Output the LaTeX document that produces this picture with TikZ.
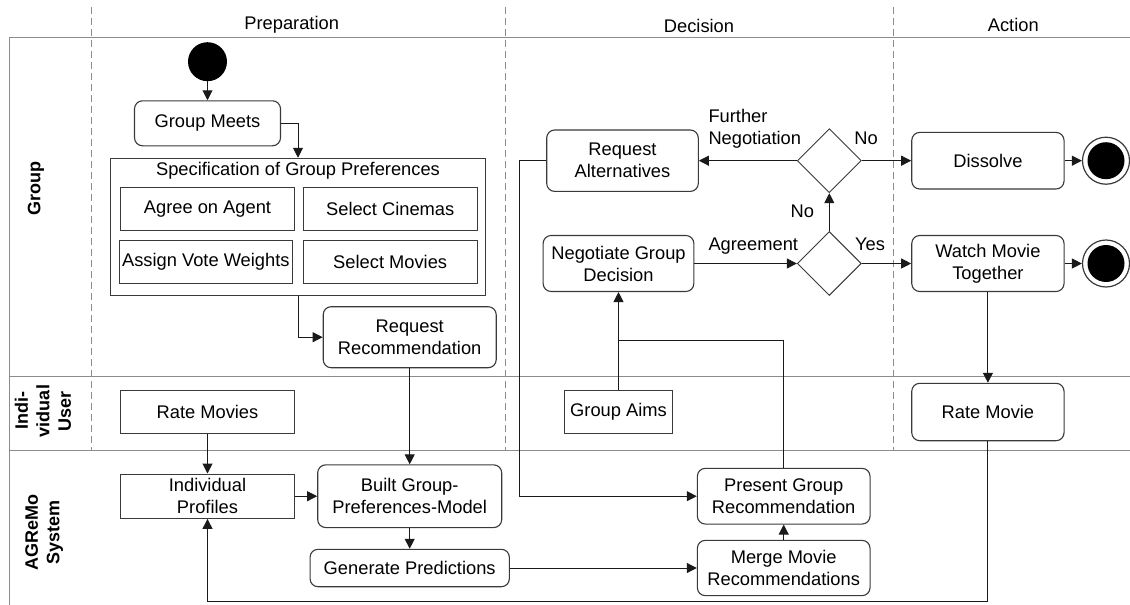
\documentclass[tikz,border=0pt]{standalone}
\usepackage{fontspec}
\setmainfont{Liberation Sans}
\usetikzlibrary{arrows.meta,shapes.geometric}
\definecolor{boxc}{HTML}{3A3A3A}
\definecolor{linec}{HTML}{1A1A1A}
\definecolor{lanec}{HTML}{8C8C8C}
\begin{document}
\begin{tikzpicture}[x=1pt,y=-1pt,
  every node/.style={font=\fontsize{18.3}{22}\selectfont, inner sep=0pt, align=center, text=black},
  rbox/.style={draw=boxc, line width=1.1pt, rounded corners=8pt},
  sbox/.style={draw=boxc, line width=1.1pt},
  lane/.style={draw=lanec, line width=0.9pt},
  sepline/.style={draw=lanec, line width=0.8pt, dash pattern=on 7pt off 4pt},
  flow/.style={draw=linec, line width=1pt, -{Triangle[length=10pt,width=10pt]}},
  plainline/.style={draw=linec, line width=1pt},
  dec/.style={diamond, draw=boxc, line width=0.9pt, minimum width=64pt, minimum height=64pt},
  lanelbl/.style={font=\bfseries\fontsize{18}{21.5}\selectfont, rotate=90},
  edgelbl/.style={font=\fontsize{18.3}{22}\selectfont},
]
\useasboundingbox (0,0) rectangle (1130,605);
\fill[white] (0,0) rectangle (1130,605);

% swimlane grid
\draw[lane] (9,37.7) -- (1130,37.7);
\draw[lane] (9,376.7) -- (1130,376.7);
\draw[lane] (9,450.7) -- (1130,450.7);
\draw[lane] (9,37.7) -- (9,605);
\draw[sepline] (91.7,7) -- (91.7,450.7);
\draw[sepline] (505.8,7) -- (505.8,450.7);
\draw[sepline] (893.3,7) -- (893.3,450.7);

% headers
\node[anchor=base] (hprep) at (291.7,29.5) {Preparation};
\node[anchor=base] (hdec) at (699,32.3) {Decision};
\node[anchor=base] (hact) at (1013.3,31) {Action};

% lane labels
\node[lanelbl] (lgroup) at (36,188.3) {Group};
\node[lanelbl] (luser) at (43,411) {Indi-\\vidual\\User};
\node[lanelbl] (lsys) at (44.2,532) {AGReMo\\System};

% Preparation column
\node[circle, fill=black, minimum size=39pt] (start) at (207.5,61.7) {};
\node[rbox, minimum width=146pt, minimum height=45pt] (gm) at (207.5,123.3) {Group Meets};
\node[sbox, minimum width=375.3pt, minimum height=137pt] (spec) at (298,226.8) {};
\node[anchor=base] (spectitle) at (298,175.5) {Specification of Group Preferences};
\node[sbox, minimum width=174.4pt, minimum height=42.7pt] (agree) at (207.5,208.7) {Agree on Agent};
\node[sbox, minimum width=174.3pt, minimum height=42.7pt] (cinemas) at (390.2,208.7) {Select Cinemas};
\node[sbox, minimum width=173pt, minimum height=43.3pt] (assign) at (205.8,261.7) {Assign Vote Weights};
\node[sbox, minimum width=174.3pt, minimum height=43.3pt] (selmov) at (390.2,261.7) {Select Movies};
\node[rbox, minimum width=173pt, minimum height=61pt] (rr) at (409.7,337.2) {Request\\Recommendation};
\node[sbox, minimum width=174.4pt, minimum height=43.3pt] (ratemovies) at (207.5,411.7) {Rate Movies};
\node[sbox, minimum width=174.4pt, minimum height=44.3pt] (ip) at (207.5,496.2) {Individual\\Profiles};
\node[rbox, minimum width=184pt, minimum height=62.7pt] (built) at (409.7,496.2) {Built Group-\\Preferences-Model};
\node[rbox, minimum width=199.3pt, minimum height=37.4pt] (gp) at (409.7,568) {Generate Predictions};

% Decision column
\node[rbox, minimum width=151.6pt, minimum height=61.4pt] (ra) at (622.5,160.7) {Request\\Alternatives};
\node[dec] (d1) at (829.3,160.7) {};
\node[dec] (d2) at (829.3,263.5) {};
\node[rbox, minimum width=150.7pt, minimum height=56pt] (ngd) at (618.5,263.5) {Negotiate Group\\Decision};
\node[sbox, minimum width=108.3pt, minimum height=43.3pt] (aims) at (618.5,411.7) {Group Aims};
\node[rbox, minimum width=172.7pt, minimum height=55.7pt] (pgr) at (783.7,496.2) {Present Group\\Recommendation};
\node[rbox, minimum width=172.7pt, minimum height=55.3pt] (merge) at (783.7,568) {Merge Movie\\Recommendations};

% Action column
\node[rbox, minimum width=152.3pt, minimum height=56.6pt] (dissolve) at (987.9,160.7) {Dissolve};
\node[rbox, minimum width=152.3pt, minimum height=56pt] (wmt) at (987.9,263.5) {Watch Movie\\Together};
\node[rbox, minimum width=152.3pt, minimum height=57.4pt] (ratemovie) at (987.9,412) {Rate Movie};
\node[circle, draw=boxc, line width=1.2pt, minimum size=47pt] (end1) at (1106,160.7) {};
\node[circle, fill=black, minimum size=37pt] (end1i) at (1106,160.7) {};
\node[circle, draw=boxc, line width=1.2pt, minimum size=47pt] (end2) at (1106,263.5) {};
\node[circle, fill=black, minimum size=37pt] (end2i) at (1106,263.5) {};

% edge labels
\node[edgelbl, anchor=west, align=left] (lfn) at (708.3,128.6) {Further\\Negotiation};
\node[edgelbl, anchor=base] (lno1) at (866,144) {No};
\node[edgelbl, anchor=base] (lno2) at (802.3,217.3) {No};
\node[edgelbl, anchor=base west] (lagr) at (708.3,250) {Agreement};
\node[edgelbl, anchor=base] (lyes) at (870,250) {Yes};

% helper coordinates
\coordinate (c1) at (519,160.7);
\coordinate (j) at (618.5,340);
\coordinate (b1) at (987.9,601.7);
\coordinate (b2) at (207.5,601.7);

% connectors
\draw[flow] (start.south) -- (gm.north);
\draw[flow] (gm.east) -| (spec.north);
\draw[flow] (spec.south) |- (rr.west);
\draw[flow] (rr.south) -- (built.north);
\draw[flow] (ratemovies.south) -- (ip.north);
\draw[flow] (ip.east) -- (built.west);
\draw[flow] (built.south) -- (gp.north);
\draw[flow] (gp.east) -- (merge.west);
\draw[flow] (merge.north) -- (pgr.south);
\draw[plainline] (pgr.north) |- (j);
\draw[flow] (aims.north) -- (ngd.south);
\draw[flow] (ngd.east) -- (d2.west);
\draw[flow] (d2.north) -- (d1.south);
\draw[flow] (d1.west) -- (ra.east);
\draw[flow] (d1.east) -- (dissolve.west);
\draw[flow] (d2.east) -- (wmt.west);
\draw[flow] (dissolve.east) -- (end1.west);
\draw[flow] (wmt.east) -- (end2.west);
\draw[flow] (wmt.south) -- (ratemovie.north);
\draw[flow] (ratemovie.south) -- (b1) -- (b2) -- (ip.south);
\draw[flow] (ra.west) -- (c1) |- (pgr.west);
\end{tikzpicture}
\end{document}
